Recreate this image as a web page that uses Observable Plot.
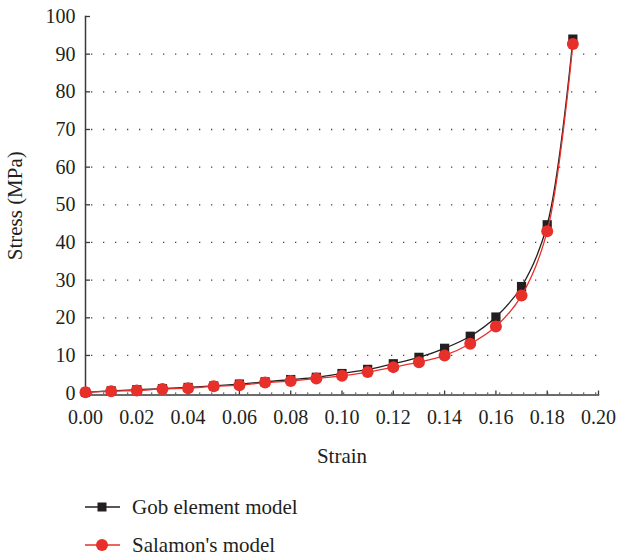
<!DOCTYPE html>
<html>
<head>
<meta charset="utf-8">
<script src="https://cdn.jsdelivr.net/npm/d3@7"></script>
<script src="https://cdn.jsdelivr.net/npm/@observablehq/plot@0.6"></script>
</head>
<body style="margin:0;padding:0;background:#fff;font-family:'Liberation Serif';">
<div id="chart" style="width:619px;height:480px;"></div>
<div id="legend" style="padding:8px 0 0 85px;font-family:'Liberation Serif';font-size:21px;color:#231f20;">
  <div style="height:38px;display:flex;align-items:center;">
    <svg viewBox="0 0 35 16" style="width:35px;height:16px;margin-right:12px;flex:none;"><line x1="0" y1="8" x2="35" y2="8" stroke="#231f20" stroke-width="1.5"/><rect x="12.5" y="3.5" width="9" height="9" fill="#231f20"/></svg>
    <span style="font-family:'Liberation Serif';">Gob element model</span>
  </div>
  <div style="height:38px;display:flex;align-items:center;">
    <svg viewBox="0 0 35 16" style="width:35px;height:16px;margin-right:12px;flex:none;"><line x1="0" y1="8" x2="35" y2="8" stroke="#e8302a" stroke-width="1.5"/><circle cx="17" cy="8" r="6" fill="#e8302a"/></svg>
    <span style="font-family:'Liberation Serif';">Salamon's model</span>
  </div>
</div>
<script>
// Strain values (x) and stress for the two models (MPa)
const strain = [0.00, 0.01, 0.02, 0.03, 0.04, 0.05, 0.06, 0.07, 0.08, 0.09,
                0.10, 0.11, 0.12, 0.13, 0.14, 0.15, 0.16, 0.17, 0.18, 0.19];
const gobStress = [0.2, 0.6, 0.9, 1.2, 1.5, 1.9, 2.4, 3.0, 3.6, 4.2,
                   5.2, 6.3, 7.8, 9.5, 11.9, 15.1, 20.2, 28.3, 44.7, 94.0];
const salamonStress = [0.2, 0.5, 0.7, 1.1, 1.3, 1.8, 2.1, 2.8, 3.2, 3.9,
                       4.6, 5.6, 6.9, 8.2, 10.0, 13.1, 17.7, 25.9, 43.0, 92.7];

const xTicks = [0, 0.02, 0.04, 0.06, 0.08, 0.10, 0.12, 0.14, 0.16, 0.18, 0.20];
const yTicks = [0, 10, 20, 30, 40, 50, 60, 70, 80, 90, 100];
const gridY = [0, 10, 20, 30, 40, 50, 60, 70, 80, 90];

const black = "#231f20";
const red = "#e8302a";
const axisColor = "#3a3a3a";
const serif = "Liberation Serif";

const gob = strain.map((s, i) => ({strain: s, stress: gobStress[i]}));
const salamon = strain.map((s, i) => ({strain: s, stress: salamonStress[i]}));

const W = 619, H = 480;
const mL = 85, mR = 21, mT = 16, mB = 85.5;
const innerW = W - mL - mR, innerH = H - mT - mB;

const chart = Plot.plot({
  width: W,
  height: H,
  marginLeft: mL,
  marginRight: mR,
  marginTop: mT,
  marginBottom: mB,
  style: {fontFamily: serif, fontSize: "20px", color: black, background: "white", overflow: "visible"},
  x: {domain: [0, 0.2]},
  y: {domain: [-0.5, 100]},
  marks: [
    // dotted horizontal grid
    Plot.ruleY(gridY, {stroke: "#444", strokeWidth: 1.3, strokeDasharray: "1.3,10.7", strokeDashoffset: 6}),
    // axis lines
    Plot.frame({anchor: "left", stroke: axisColor, strokeWidth: 1.5}),
    Plot.frame({anchor: "bottom", stroke: axisColor, strokeWidth: 1.5}),
    // inward tick marks
    Plot.tickY(yTicks, {y: d => d, stroke: axisColor, strokeWidth: 1.3, insetRight: innerW - 5}),
    Plot.tickX(xTicks, {x: d => d, stroke: axisColor, strokeWidth: 1.3, insetTop: innerH - 4}),
    // tick labels
    Plot.axisY(yTicks, {tickSize: 0, tickPadding: 10, label: null, fontSize: 20, fontFamily: serif}),
    Plot.axisX(xTicks, {tickSize: 0, tickPadding: 15, tickFormat: d => d.toFixed(2), label: null, fontSize: 20, fontFamily: serif}),
    // axis titles
    Plot.axisY([], {label: "Stress (MPa)", labelAnchor: "center", labelOffset: 78, labelArrow: "none", tickSize: 0, fontSize: 21, fontFamily: serif}),
    Plot.axisX([], {label: "Strain", labelAnchor: "center", labelOffset: 68, labelArrow: "none", tickSize: 0, fontSize: 21, fontFamily: serif}),
    // series
    Plot.line(gob, {x: "strain", y: "stress", stroke: black, strokeWidth: 1.3, curve: "catmull-rom"}),
    Plot.dot(gob, {x: "strain", y: "stress", symbol: "square", r: 5.2, fill: black, stroke: "none"}),
    Plot.line(salamon, {x: "strain", y: "stress", stroke: red, strokeWidth: 1.3, curve: "catmull-rom"}),
    Plot.dot(salamon, {x: "strain", y: "stress", r: 6, fill: red, stroke: "none"})
  ]
});

document.getElementById("chart").appendChild(chart);
</script>
</body>
</html>
